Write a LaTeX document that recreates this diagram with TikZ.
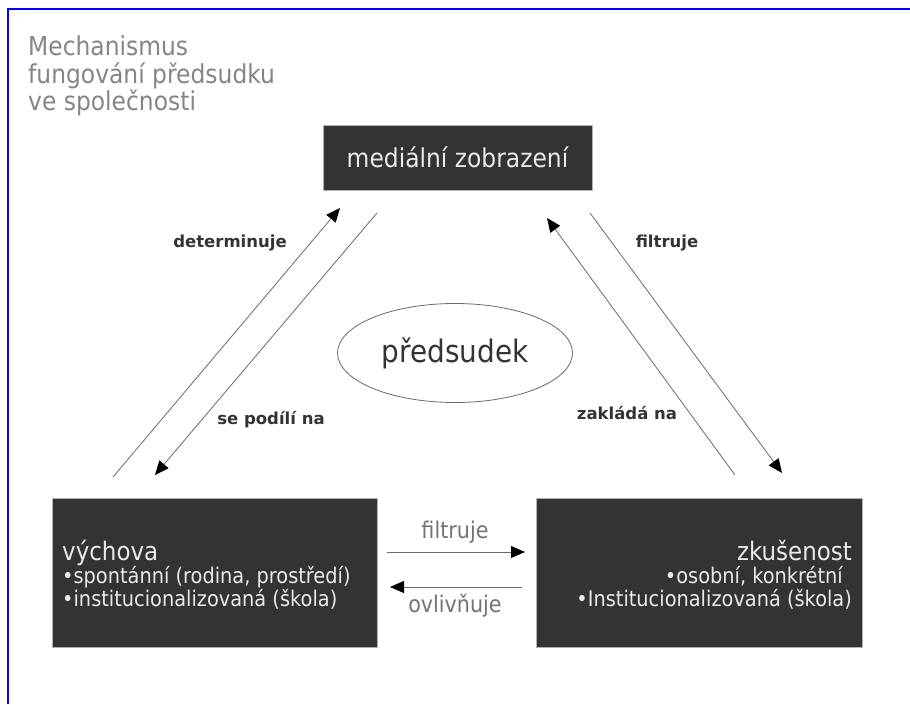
\documentclass[tikz,border=0pt]{standalone}
\usepackage{fontspec}
\setmainfont{DejaVu Sans}[FakeStretch=0.9]
\newfontfamily\labelfont{DejaVu Sans}
\usetikzlibrary{arrows.meta,shapes.geometric}
\definecolor{boxgray}{HTML}{333333}
\definecolor{boxtext}{HTML}{EAEAEA}
\definecolor{titlegray}{HTML}{858585}
\definecolor{linegray}{HTML}{6A6A6A}
\definecolor{midgray}{HTML}{737373}
\newcommand\fsz[1]{\fontsize{#1}{#1}\selectfont}
\begin{document}
\begin{tikzpicture}[x=1pt,y=-1pt,
  darkbox/.style={rectangle, fill=boxgray, draw=gray!60, line width=0.6pt, inner sep=0pt},
  titletext/.style={anchor=base west, inner sep=0pt, text=titlegray, font=\fsz{26}},
  boxtxt/.style={inner sep=0pt, text=boxtext},
  conn/.style={draw=linegray, line width=0.8pt, -{Triangle[length=14pt,width=12pt,color=black]}},
  arrlabel/.style={inner sep=0pt, text=boxgray, font=\labelfont\bfseries\fsz{16.5}},
  midlabel/.style={inner sep=0pt, text=midgray, font=\fsz{23}}]
\useasboundingbox (0,0) rectangle (910,704);
\fill[white] (0,0) rectangle (910,704);
\draw[blue, line width=2.4pt] (8,704) -- (8,9) -- (910,9);

% title
\node[titletext] (t1) at (28,55) {Mechanismus};
\node[titletext] (t2) at (28,83) {fungování předsudku};
\node[titletext] (t3) at (28,110) {ve společnosti};

% boxes
\node[darkbox, minimum width=269pt, minimum height=65pt, text=boxtext, font=\fsz{26}] (media) at (457.5,157.5) {mediální zobrazení};
\node[darkbox, minimum width=325pt, minimum height=149pt] (vych) at (214.5,572.5) {};
\node[darkbox, minimum width=326pt, minimum height=149pt] (zkus) at (699.5,572.5) {};

\node[boxtxt, anchor=base west, font=\fsz{25.5}] (v1) at (62,560) {výchova};
\node[boxtxt, anchor=base west, font=\fsz{21.5}] (v2) at (62,583) {•spontánní (rodina, prostředí)};
\node[boxtxt, anchor=base west, font=\fsz{21.5}] (v3) at (62,606) {•institucionalizovaná (škola)};

\node[boxtxt, anchor=base east, font=\fsz{25.5}] (z1) at (852,560) {zkušenost};
\node[boxtxt, anchor=base east, font=\fsz{21.5}] (z2) at (843,583) {•osobní, konkrétní};
\node[boxtxt, anchor=base east, font=\fsz{21.5}] (z3) at (852,606) {•Institucionalizovaná (škola)};

% ellipse
\node[ellipse, draw=linegray, line width=0.8pt, minimum width=235pt, minimum height=99pt, inner sep=0pt, text=boxgray, font=\fsz{31}] (pred) at (455,353) {předsudek};

% arrow end points
\coordinate (a1s) at (113,477); \coordinate (a1e) at (340,208);
\coordinate (a2s) at (377,213); \coordinate (a2e) at (155,475);
\coordinate (a3s) at (735,475); \coordinate (a3e) at (547,218);
\coordinate (a4s) at (590,213); \coordinate (a4e) at (782,473);
\coordinate (a5s) at (387,552); \coordinate (a5e) at (525,552);
\coordinate (a6s) at (522,587); \coordinate (a6e) at (390,587);

\draw[conn] (a1s) -- (a1e);
\draw[conn] (a2s) -- (a2e);
\draw[conn] (a3s) -- (a3e);
\draw[conn] (a4s) -- (a4e);
\draw[conn] (a5s) -- (a5e);
\draw[conn] (a6s) -- (a6e);

% labels
\node[arrlabel] (l1) at (230,243) {determinuje};
\node[arrlabel] (l2) at (271,420) {se podílí na};
\node[arrlabel] (l3) at (667,243) {filtruje};
\node[arrlabel] (l4) at (627,413) {zakládá na};
\node[midlabel] (l5) at (455,532) {filtruje};
\node[midlabel] (l6) at (455,606) {ovlivňuje};
\end{tikzpicture}
\end{document}
